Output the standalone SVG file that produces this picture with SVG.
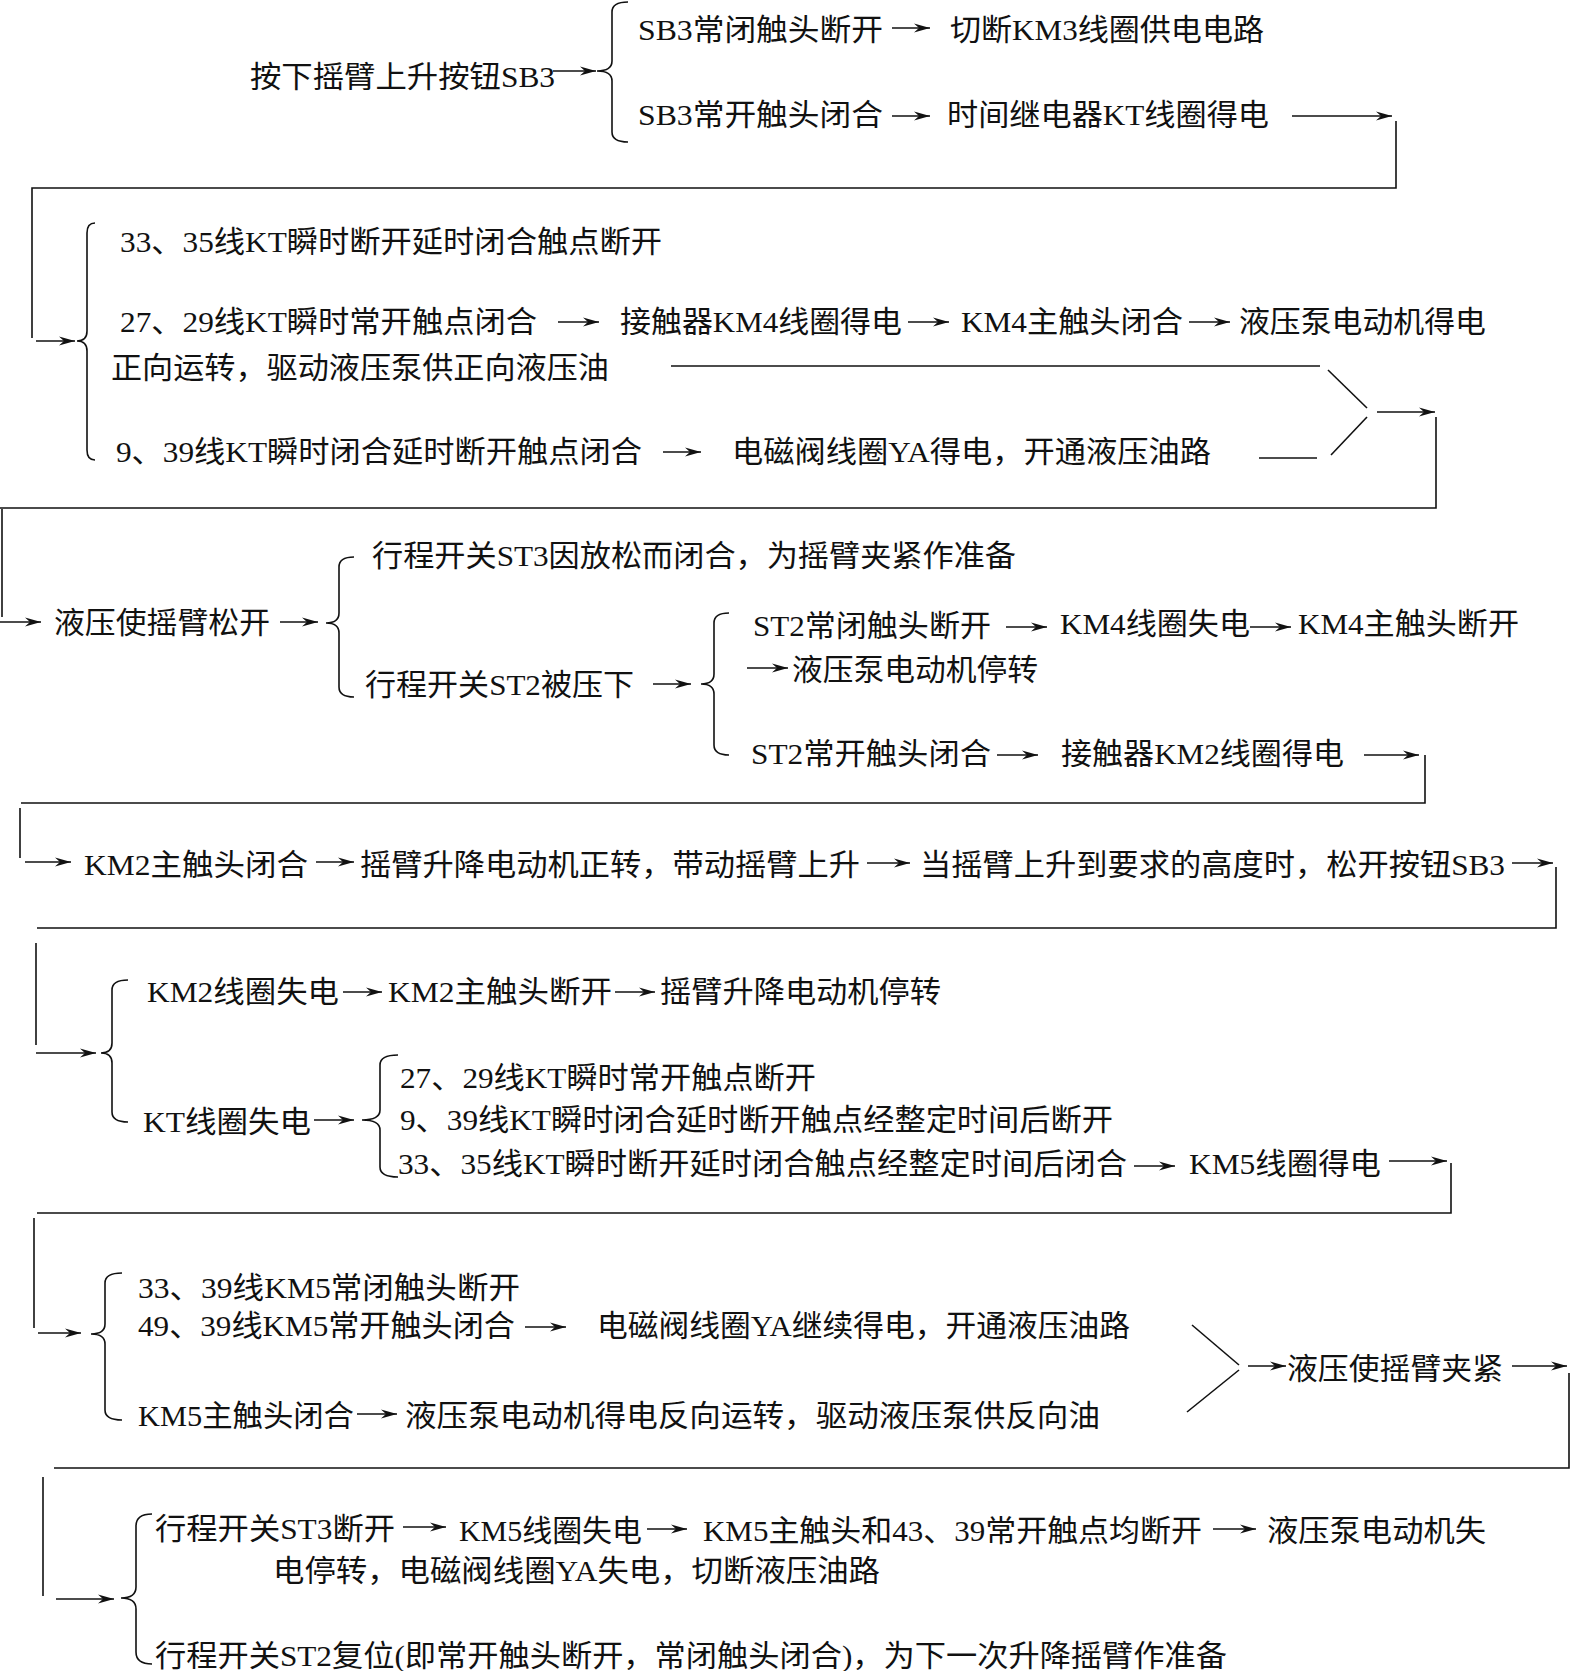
<svg xmlns="http://www.w3.org/2000/svg" width="1572" height="1671" viewBox="0 0 1572 1671">
<style>
text{font-family:"Liberation Serif","Noto Sans CJK SC",serif;font-size:30px;fill:#111}
.ln{stroke:#111;stroke-width:1.6;fill:none}
.ar{stroke:#111;stroke-width:1.5;fill:none;marker-end:url(#ah)}
.br{stroke:#111;stroke-width:1.6;fill:none}
</style>
<defs>
<marker id="ah" markerUnits="userSpaceOnUse" markerWidth="17" markerHeight="10" refX="16" refY="5" orient="auto" viewBox="0 0 17 10"><path d="M0,0.5 L16,5 L0,9.5 L5,5 z" fill="#111"/></marker>
</defs>
<rect width="1572" height="1671" fill="#fff"/>
<g id="nodes">
<g id="n1"><text x="250" y="87" textLength="305" lengthAdjust="spacingAndGlyphs">按下摇臂上升按钮SB3</text></g>
<g id="n2"><text x="638" y="40" textLength="245" lengthAdjust="spacingAndGlyphs">SB3常闭触头断开</text></g>
<g id="n3"><text x="950" y="40" textLength="314" lengthAdjust="spacingAndGlyphs">切断KM3线圈供电电路</text></g>
<g id="n4"><text x="638" y="125" textLength="245" lengthAdjust="spacingAndGlyphs">SB3常开触头闭合</text></g>
<g id="n5"><text x="947" y="125" textLength="322" lengthAdjust="spacingAndGlyphs">时间继电器KT线圈得电</text></g>
<g id="n6"><text x="120" y="252" textLength="542" lengthAdjust="spacingAndGlyphs">33、35线KT瞬时断开延时闭合触点断开</text></g>
<g id="n7"><text x="120" y="332" textLength="417" lengthAdjust="spacingAndGlyphs">27、29线KT瞬时常开触点闭合</text></g>
<g id="n8"><text x="620" y="332" textLength="282" lengthAdjust="spacingAndGlyphs">接触器KM4线圈得电</text></g>
<g id="n9"><text x="961" y="332" textLength="222" lengthAdjust="spacingAndGlyphs">KM4主触头闭合</text></g>
<g id="n10"><text x="1239" y="332" textLength="247" lengthAdjust="spacingAndGlyphs">液压泵电动机得电</text></g>
<g id="n11"><text x="111" y="378" textLength="498" lengthAdjust="spacingAndGlyphs">正向运转，驱动液压泵供正向液压油</text></g>
<g id="n12"><text x="116" y="462" textLength="526" lengthAdjust="spacingAndGlyphs">9、39线KT瞬时闭合延时断开触点闭合</text></g>
<g id="n13"><text x="732" y="462" textLength="479" lengthAdjust="spacingAndGlyphs">电磁阀线圈YA得电，开通液压油路</text></g>
<g id="n14"><text x="54" y="633" textLength="216" lengthAdjust="spacingAndGlyphs">液压使摇臂松开</text></g>
<g id="n15"><text x="372" y="566" textLength="644" lengthAdjust="spacingAndGlyphs">行程开关ST3因放松而闭合，为摇臂夹紧作准备</text></g>
<g id="n16"><text x="365" y="695" textLength="269" lengthAdjust="spacingAndGlyphs">行程开关ST2被压下</text></g>
<g id="n17"><text x="753" y="636" textLength="238" lengthAdjust="spacingAndGlyphs">ST2常闭触头断开</text></g>
<g id="n18"><text x="1060" y="634" textLength="190" lengthAdjust="spacingAndGlyphs">KM4线圈失电</text></g>
<g id="n19"><text x="1298" y="634" textLength="221" lengthAdjust="spacingAndGlyphs">KM4主触头断开</text></g>
<g id="n20"><text x="792" y="680" textLength="246" lengthAdjust="spacingAndGlyphs">液压泵电动机停转</text></g>
<g id="n21"><text x="751" y="764" textLength="240" lengthAdjust="spacingAndGlyphs">ST2常开触头闭合</text></g>
<g id="n22"><text x="1061" y="764" textLength="283" lengthAdjust="spacingAndGlyphs">接触器KM2线圈得电</text></g>
<g id="n23"><text x="84" y="875" textLength="224" lengthAdjust="spacingAndGlyphs">KM2主触头闭合</text></g>
<g id="n24"><text x="360" y="875" textLength="500" lengthAdjust="spacingAndGlyphs">摇臂升降电动机正转，带动摇臂上升</text></g>
<g id="n25"><text x="920" y="875" textLength="585" lengthAdjust="spacingAndGlyphs">当摇臂上升到要求的高度时，松开按钮SB3</text></g>
<g id="n26"><text x="147" y="1002" textLength="192" lengthAdjust="spacingAndGlyphs">KM2线圈失电</text></g>
<g id="n27"><text x="388" y="1002" textLength="224" lengthAdjust="spacingAndGlyphs">KM2主触头断开</text></g>
<g id="n28"><text x="660" y="1002" textLength="281" lengthAdjust="spacingAndGlyphs">摇臂升降电动机停转</text></g>
<g id="n29"><text x="143" y="1132" textLength="168" lengthAdjust="spacingAndGlyphs">KT线圈失电</text></g>
<g id="n30"><text x="400" y="1088" textLength="416" lengthAdjust="spacingAndGlyphs">27、29线KT瞬时常开触点断开</text></g>
<g id="n31"><text x="400" y="1130" textLength="713" lengthAdjust="spacingAndGlyphs">9、39线KT瞬时闭合延时断开触点经整定时间后断开</text></g>
<g id="n32"><text x="398" y="1174" textLength="729" lengthAdjust="spacingAndGlyphs">33、35线KT瞬时断开延时闭合触点经整定时间后闭合</text></g>
<g id="n33"><text x="1189" y="1174" textLength="192" lengthAdjust="spacingAndGlyphs">KM5线圈得电</text></g>
<g id="n34"><text x="138" y="1298" textLength="382" lengthAdjust="spacingAndGlyphs">33、39线KM5常闭触头断开</text></g>
<g id="n35"><text x="138" y="1336" textLength="377" lengthAdjust="spacingAndGlyphs">49、39线KM5常开触头闭合</text></g>
<g id="n36"><text x="597" y="1336" textLength="533" lengthAdjust="spacingAndGlyphs">电磁阀线圈YA继续得电，开通液压油路</text></g>
<g id="n37"><text x="138" y="1426" textLength="216" lengthAdjust="spacingAndGlyphs">KM5主触头闭合</text></g>
<g id="n38"><text x="405" y="1426" textLength="695" lengthAdjust="spacingAndGlyphs">液压泵电动机得电反向运转，驱动液压泵供反向油</text></g>
<g id="n39"><text x="1287" y="1379" textLength="216" lengthAdjust="spacingAndGlyphs">液压使摇臂夹紧</text></g>
<g id="n40"><text x="155" y="1539" textLength="240" lengthAdjust="spacingAndGlyphs">行程开关ST3断开</text></g>
<g id="n41"><text x="459" y="1541" textLength="183" lengthAdjust="spacingAndGlyphs">KM5线圈失电</text></g>
<g id="n42"><text x="703" y="1541" textLength="499" lengthAdjust="spacingAndGlyphs">KM5主触头和43、39常开触点均断开</text></g>
<g id="n43"><text x="1267" y="1541" textLength="219" lengthAdjust="spacingAndGlyphs">液压泵电动机失</text></g>
<g id="n44"><text x="273" y="1581" textLength="607" lengthAdjust="spacingAndGlyphs">电停转，电磁阀线圈YA失电，切断液压油路</text></g>
<g id="n45"><text x="155" y="1666" textLength="1072" lengthAdjust="spacingAndGlyphs">行程开关ST2复位(即常开触头断开，常闭触头闭合)，为下一次升降摇臂作准备</text></g>
</g>
<g id="connectors">
<path class="br" d="M628,2 Q612,2 612,12 V61 Q612,71 597,71 Q612,71 612,81 V132 Q612,142 628,142"/>
<path class="br" d="M95,223 Q87,223 87,233 V331 Q87,341 77,341 Q87,341 87,351 V450 Q87,460 95,460"/>
<path class="br" d="M354,557 Q339,557 339,567 V613 Q339,623 326,623 Q339,623 339,633 V687 Q339,697 354,697"/>
<path class="br" d="M729,613 Q714,613 714,623 V674 Q714,684 701,684 Q714,684 714,694 V745 Q714,755 729,755"/>
<path class="br" d="M128,980 Q112,980 112,990 V1043 Q112,1053 101,1053 Q112,1053 112,1063 V1112 Q112,1122 128,1122"/>
<path class="br" d="M398,1055 Q380,1055 380,1065 V1110 Q380,1120 362,1120 Q380,1120 380,1130 V1167 Q380,1177 398,1177"/>
<path class="br" d="M122,1273 Q105,1273 105,1283 V1324 Q105,1334 91,1334 Q105,1334 105,1344 V1410 Q105,1420 122,1420"/>
<path class="br" d="M152,1514 Q136,1514 136,1526 V1587 Q136,1598 121,1598 Q136,1598 136,1609 V1652 Q136,1664 152,1664"/>
<!-- section 1 -->
<line class="ar" x1="553" y1="71" x2="596" y2="71"/>
<line class="ar" x1="892" y1="28" x2="930" y2="28"/>
<line class="ar" x1="892" y1="116" x2="930" y2="116"/>
<line class="ar" x1="1292" y1="116" x2="1392" y2="116"/>
<polyline class="ln" points="1396,121 1396,188 32,188 32,338"/>
<line class="ar" x1="36" y1="341" x2="75" y2="341"/>
<!-- section 2 -->
<line class="ar" x1="558" y1="322" x2="599" y2="322"/>
<line class="ar" x1="908" y1="322" x2="949" y2="322"/>
<line class="ar" x1="1189" y1="322" x2="1230" y2="322"/>
<line class="ar" x1="663" y1="452" x2="701" y2="452"/>
<line class="ln" x1="671" y1="366" x2="1320" y2="366"/>
<line class="ln" x1="1259" y1="458" x2="1317" y2="458"/>
<line class="ln" x1="1328" y1="370" x2="1367" y2="408"/>
<line class="ln" x1="1367" y1="417" x2="1331" y2="455"/>
<line class="ar" x1="1377" y1="412" x2="1435" y2="412"/>
<polyline class="ln" points="1436,417 1436,508 0,508"/>
<line class="ln" x1="2" y1="509" x2="2" y2="617"/>
<line class="ar" x1="0" y1="622" x2="41" y2="622"/>
<!-- section 3 -->
<line class="ar" x1="280" y1="622" x2="318" y2="622"/>
<line class="ar" x1="653" y1="684" x2="691" y2="684"/>
<line class="ar" x1="1006" y1="627" x2="1047" y2="627"/>
<line class="ar" x1="1250" y1="627" x2="1291" y2="627"/>
<line class="ar" x1="747" y1="668" x2="788" y2="668"/>
<line class="ar" x1="997" y1="755" x2="1038" y2="755"/>
<line class="ar" x1="1364" y1="755" x2="1419" y2="755"/>
<polyline class="ln" points="1425,755 1425,803 21,803"/>
<line class="ln" x1="20" y1="808" x2="20" y2="858"/>
<line class="ar" x1="25" y1="862" x2="71" y2="862"/>
<!-- section 4 -->
<line class="ar" x1="316" y1="862" x2="354" y2="862"/>
<line class="ar" x1="867" y1="863" x2="910" y2="863"/>
<line class="ar" x1="1512" y1="863" x2="1553" y2="863"/>
<polyline class="ln" points="1556,867 1556,928 37,928"/>
<line class="ln" x1="36" y1="943" x2="36" y2="1045"/>
<line class="ar" x1="36" y1="1053" x2="96" y2="1053"/>
<!-- section 5 -->
<line class="ar" x1="343" y1="992" x2="382" y2="992"/>
<line class="ar" x1="615" y1="992" x2="655" y2="992"/>
<line class="ar" x1="314" y1="1120" x2="354" y2="1120"/>
<line class="ar" x1="1134" y1="1166" x2="1175" y2="1166"/>
<line class="ar" x1="1389" y1="1161" x2="1447" y2="1161"/>
<polyline class="ln" points="1451,1163 1451,1213 37,1213"/>
<line class="ln" x1="34" y1="1218" x2="34" y2="1328"/>
<line class="ar" x1="38" y1="1333" x2="81" y2="1333"/>
<!-- section 6 -->
<line class="ar" x1="525" y1="1327" x2="566" y2="1327"/>
<line class="ar" x1="357" y1="1414" x2="397" y2="1414"/>
<line class="ln" x1="1192" y1="1325" x2="1239" y2="1365"/>
<line class="ln" x1="1239" y1="1370" x2="1187" y2="1412"/>
<line class="ar" x1="1248" y1="1366" x2="1286" y2="1366"/>
<line class="ar" x1="1512" y1="1366" x2="1567" y2="1366"/>
<polyline class="ln" points="1569,1373 1569,1468 54,1468"/>
<line class="ln" x1="43" y1="1477" x2="43" y2="1596"/>
<line class="ar" x1="56" y1="1599" x2="114" y2="1599"/>
<!-- section 7 -->
<line class="ar" x1="403" y1="1527" x2="446" y2="1527"/>
<line class="ar" x1="647" y1="1529" x2="687" y2="1529"/>
<line class="ar" x1="1213" y1="1529" x2="1256" y2="1529"/>
</g>
</svg>
